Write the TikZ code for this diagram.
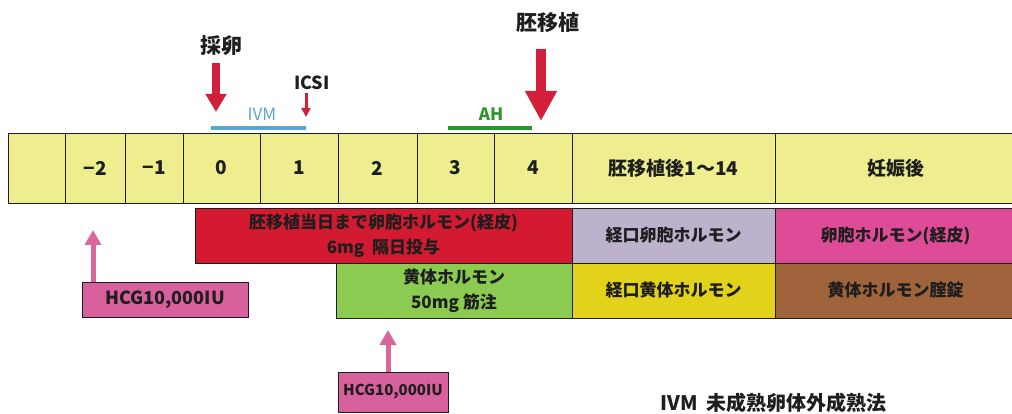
\documentclass[tikz,border=0pt]{standalone}
\usepackage{fontspec}
\setmainfont{Noto Sans CJK JP}
\usetikzlibrary{arrows.meta}
\definecolor{cellY}{HTML}{EEEE8E}
\definecolor{redB}{HTML}{D41A30}
\definecolor{purB}{HTML}{BCB2CC}
\definecolor{pinkB}{HTML}{DE4C98}
\definecolor{greenB}{HTML}{8CCB52}
\definecolor{mustB}{HTML}{E2D21A}
\definecolor{brownB}{HTML}{A0643C}
\definecolor{hcgB}{HTML}{D8609C}
\definecolor{arrR}{HTML}{D3203A}
\definecolor{arrP}{HTML}{D8689A}
\definecolor{barBlue}{HTML}{5AA6CE}
\definecolor{barGreen}{HTML}{2C962E}
\definecolor{txt}{HTML}{1E1E1E}
\begin{document}
\begin{tikzpicture}[x=1pt,y=-1pt,
  cell/.style={draw=txt,line width=0.9pt,fill=cellY,inner sep=0pt,font=\fontsize{19}{21}\selectfont\bfseries,text=txt},
  band/.style={draw=txt,line width=0.9pt,inner sep=0pt,align=center,font=\fontsize{17}{25}\selectfont\bfseries,text=txt},
  hcg/.style={draw=txt,line width=1pt,fill=hcgB,inner sep=0pt,font=\fontsize{18}{20}\selectfont\bfseries,text=txt},
  lbl/.style={inner sep=0pt,font=\fontsize{21}{23}\selectfont\bfseries,text=txt},
  redarrow/.style={draw=arrR,line width=#1},
  pinkarrow/.style={draw=arrP,line width=5pt,-{Triangle[width=16pt,length=15pt]}}
]
\useasboundingbox (0,0) rectangle (1012,414);
\clip (0,0) rectangle (1012,414);

% timeline row (y 133..203)
\node[cell,minimum width=57pt,minimum height=70pt] (c1) at (36.5,168) {};
\node[cell,minimum width=60pt,minimum height=70pt] (c2) at (95,168) {−2};
\node[cell,minimum width=58pt,minimum height=70pt] (c3) at (154,168) {−1};
\node[cell,minimum width=77pt,minimum height=70pt] (c4) at (221.5,168) {0};
\node[cell,minimum width=78pt,minimum height=70pt] (c5) at (299,168) {1};
\node[cell,minimum width=79pt,minimum height=70pt] (c6) at (377.5,168) {2};
\node[cell,minimum width=77pt,minimum height=70pt] (c7) at (455.5,168) {3};
\node[cell,minimum width=78pt,minimum height=70pt] (c8) at (533,168) {4};
\node[cell,minimum width=203pt,minimum height=70pt] (c9) at (673.5,168) {胚移植後1〜14};
\node[cell,minimum width=241pt,minimum height=70pt] (c10) at (895.5,168) {妊娠後};

% second row (y 208..263)
\node[band,fill=redB,minimum width=377pt,minimum height=55pt] (estr) at (383.5,235.5) {胚移植当日まで卵胞ホルモン(経皮)\\6mg\ \ 隔日投与};
\node[band,fill=purB,minimum width=203pt,minimum height=55pt] (oest) at (673.5,235.5) {経口卵胞ホルモン};
\node[band,fill=pinkB,minimum width=241pt,minimum height=55pt] (pest) at (895.5,235.5) {卵胞ホルモン(経皮)};

% third row (y 263..318)
\node[band,fill=greenB,minimum width=236pt,minimum height=55pt] (prog) at (454,290.5) {黄体ホルモン\\50mg 筋注};
\node[band,fill=mustB,minimum width=203pt,minimum height=55pt] (oprog) at (673.5,290.5) {経口黄体ホルモン};
\node[band,fill=brownB,minimum width=241pt,minimum height=55pt] (vprog) at (895.5,290.5) {黄体ホルモン腟錠};

% HCG boxes
\node[hcg,minimum width=166pt,minimum height=35pt] (hcg1) at (165,299.5) {HCG10,000IU};
\node[hcg,minimum width=110pt,minimum height=40pt,font=\fontsize{15}{17}\selectfont\bfseries] (hcg2) at (393,392) {HCG10,000IU};
\draw[pinkarrow] (hcg1.north -| 93,0) -- (93,230);
\draw[pinkarrow] (hcg2.north -| 388,0) -- (388,330);

% top labels and arrows
\node[lbl] (sairan) at (221,46) {採卵};
\coordinate (t1) at (216,112);
\draw[redarrow=8pt,-{Triangle[width=20pt,length=18pt]}] (216,63) -- (t1);

\node[lbl,font=\fontsize{18}{20}\selectfont\bfseries] (icsi) at (312,83) {ICSI};
\coordinate (t2) at (306,117);
\draw[redarrow=3pt,-{Triangle[width=9pt,length=9pt]}] (306,93) -- (t2);

\node[lbl] (ishoku) at (548,23) {胚移植};
\coordinate (t3) at (541,121);
\draw[redarrow=10pt,-{Triangle[width=30pt,length=30pt]}] (541,49) -- (t3);

\node[lbl,font=\fontsize{17}{19}\selectfont,text=barBlue] (ivm) at (262,114) {IVM};
\draw[barBlue,line width=4.5pt] (211,128) coordinate (ivmA) -- (306,128) coordinate (ivmB);
\node[lbl,font=\fontsize{17}{19}\selectfont\bfseries,text=barGreen] (ah) at (491,114) {AH};
\draw[barGreen,line width=4.5pt] (448,128) coordinate (ahA) -- (532,128) coordinate (ahB);

% bottom legend
\node[lbl,anchor=west,font=\fontsize{20}{22}\selectfont\bfseries] (legend) at (660,403) {IVM\ \ 未成熟卵体外成熟法};
\end{tikzpicture}
\end{document}
